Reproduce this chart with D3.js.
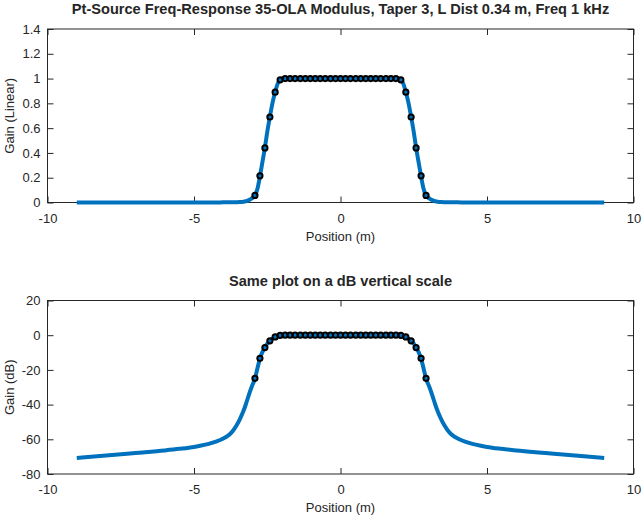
<!DOCTYPE html>
<html><head><meta charset="utf-8">
<script src="https://cdn.jsdelivr.net/npm/d3@7"></script>
<style>
html,body{margin:0;padding:0;background:#fff;}
svg{display:block;}
text{font-family:"Liberation Sans",Arial,Helvetica,sans-serif;fill:#262626;}
</style></head><body>
<svg id="chart" width="642" height="517"></svg>
<script>
// ---- Data ----
const titleTop = "Pt-Source Freq-Response 35-OLA Modulus, Taper 3, L Dist 0.34 m, Freq 1 kHz";
const titleBottom = "Same plot on a dB vertical scale";
const xLabel = "Position (m)";
const yLabelTop = "Gain (Linear)";
const yLabelBottom = "Gain (dB)";
const xTicks = [-10, -5, 0, 5, 10];
const yTicksTop = [0, 0.2, 0.4, 0.6, 0.8, 1, 1.2, 1.4];
const yTicksBottom = [-80, -60, -40, -20, 0, 20];

// response curve: position (m) and gain (dB)
const curveX = [-9, -8, -7, -6, -5.5, -5, -4.75, -4.5, -4.25, -4.0, -3.85, -3.77, -3.65, -3.54, -3.43, -3.32, -3.23, -3.15, -3.03, -2.92, -2.83, -2.75, -2.67, -2.58, -2.5, -2.41, -2.32, -2.23, -2.15, -2.06, -1.9, -1.5, -1, 0,
                1, 1.5, 1.9, 2.06, 2.15, 2.23, 2.32, 2.41, 2.5, 2.58, 2.67, 2.75, 2.83, 2.92, 3.03, 3.15, 3.23, 3.32, 3.43, 3.54, 3.65, 3.77, 3.85, 4.0, 4.25, 4.5, 4.75, 5, 5.5, 6, 7, 8, 9];
const curveDB = [-70.8, -69.4, -67.9, -66.4, -65.5, -64.4, -63.6, -62.6, -61.3, -59.5, -58.0, -56.9, -54.6, -51.8, -48.2, -44.0, -39.8, -35.5, -29.7, -25.0, -18.8, -13.5, -9.9, -7.1, -4.9, -3.2, -1.9, -1.0, -0.4, -0.08, 0, 0, 0, 0,
                0, 0, 0, -0.08, -0.4, -1.0, -1.9, -3.2, -4.9, -7.1, -9.9, -13.5, -18.8, -25.0, -29.7, -35.5, -39.8, -44.0, -48.2, -51.8, -54.6, -56.9, -58.0, -59.5, -61.3, -62.6, -63.6, -64.4, -65.5, -66.4, -67.9, -69.4, -70.8];

// 35 source positions (m) and their linear gains
const srcX = [-2.92, -2.75, -2.58, -2.41, -2.23, -2.06, -1.89, -1.72, -1.55, -1.37, -1.20, -1.03, -0.86, -0.69, -0.52, -0.34, -0.17, 0,
              0.17, 0.34, 0.52, 0.69, 0.86, 1.03, 1.20, 1.37, 1.55, 1.72, 1.89, 2.06, 2.23, 2.41, 2.58, 2.75, 2.92];
const srcGain = [0.057, 0.215, 0.44, 0.69, 0.89, 0.99, 1, 1, 1, 1, 1, 1, 1, 1, 1, 1, 1, 1,
                 1, 1, 1, 1, 1, 1, 1, 1, 1, 1, 1, 0.99, 0.89, 0.69, 0.44, 0.215, 0.057];

// ---- Drawing ----
const svg = d3.select("#chart");
const L = 47.5, R = 633.5;
const axColor = "#262626";
const blue = "#0072BD";

function panel(top, bottom, yDomain, yTicks, yFmt, yVals, mVals, title, ylab) {
  const x = d3.scaleLinear().domain([-10, 10]).range([L, R]);
  const y = d3.scaleLinear().domain(yDomain).range([bottom, top]);
  const g = svg.append("g");

  const styleAxis = sel => {
    sel.select(".domain").remove();
    sel.selectAll("line").attr("stroke", axColor).attr("stroke-width", 1);
    sel.selectAll("text").attr("fill", axColor).style("font-size", "13px")
      .style("font-family", '"Liberation Sans",Arial,sans-serif');
  };

  g.append("g").attr("transform", `translate(0,${bottom})`)
    .call(d3.axisBottom(x).tickValues(xTicks).tickSize(-6).tickPadding(11).tickFormat(d => String(d)))
    .call(styleAxis);
  g.append("g").attr("transform", `translate(0,${top})`)
    .call(d3.axisTop(x).tickValues(xTicks).tickSize(-6).tickFormat(""))
    .call(styleAxis);
  g.append("g").attr("transform", `translate(${L},0)`)
    .call(d3.axisLeft(y).tickValues(yTicks).tickSize(-6).tickPadding(7).tickFormat(yFmt))
    .call(styleAxis);
  g.append("g").attr("transform", `translate(${R},0)`)
    .call(d3.axisRight(y).tickValues(yTicks).tickSize(-6).tickFormat(""))
    .call(styleAxis);

  g.append("rect").attr("x", L).attr("y", top).attr("width", R - L).attr("height", bottom - top)
    .attr("fill", "none").attr("stroke", axColor).attr("stroke-width", 1);

  const line = d3.line().x(d => x(d[0])).y(d => y(d[1])).curve(d3.curveMonotoneX);
  g.append("path").datum(curveX.map((v, i) => [v, yVals[i]]))
    .attr("d", line).attr("fill", "none").attr("stroke", blue).attr("stroke-width", 4)
    .attr("stroke-linejoin", "round");

  g.selectAll("circle.m").data(srcX.map((v, i) => [v, mVals[i]])).enter()
    .append("circle").attr("class", "m")
    .attr("cx", d => x(d[0])).attr("cy", d => y(d[1])).attr("r", 2.6)
    .attr("fill", "none").attr("stroke", "#000").attr("stroke-width", 2);

  g.append("text").attr("x", (L + R) / 2).attr("y", top - 15)
    .attr("text-anchor", "middle").style("font-size", "14.6px").style("font-weight", "bold")
    .text(title);
  g.append("text").attr("x", (L + R) / 2).attr("y", bottom + 38)
    .attr("text-anchor", "middle").style("font-size", "13px").text(xLabel);
  g.append("text").attr("transform", `translate(13.5,${(top + bottom) / 2}) rotate(-90)`)
    .attr("text-anchor", "middle").style("font-size", "13px").text(ylab);
}

const fmtTop = d => d === 0 ? "0" : String(+d.toFixed(1));
panel(29, 202.5, [0, 1.4], yTicksTop, fmtTop,
      curveDB.map(v => Math.pow(10, v / 20)), srcGain, titleTop, yLabelTop);
panel(300.5, 474, [-80, 20], yTicksBottom, d => String(d),
      curveDB, srcGain.map(v => 20 * Math.log10(v)), titleBottom, yLabelBottom);
</script>
</body></html>
